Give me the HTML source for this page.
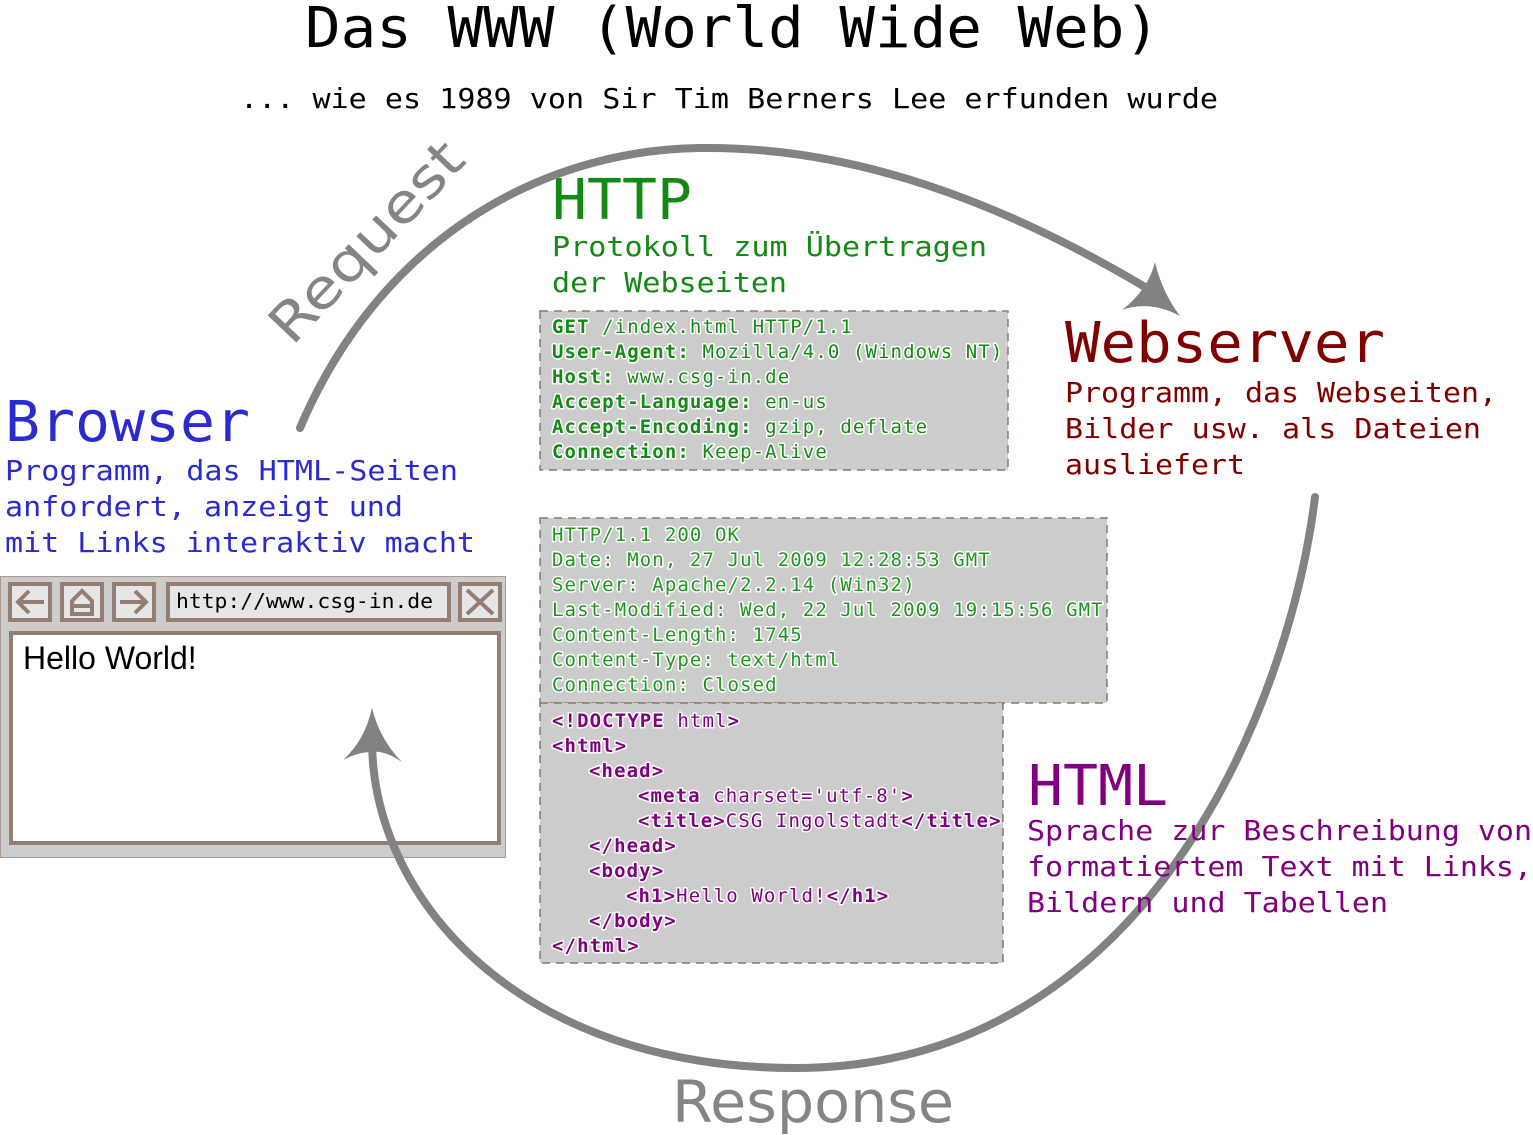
<!DOCTYPE html>
<html><head><meta charset="utf-8"><style>
html,body{margin:0;padding:0;background:#fff;}
svg{display:block;}
text{font-family:"DejaVu Sans Mono","Liberation Mono",monospace;paint-order:stroke;stroke:#fff;stroke-width:3px;stroke-linejoin:round;white-space:pre;}
.code{font-size:19px;letter-spacing:1.1px;stroke:none;}
.b{font-weight:bold;}
</style></head><body>
<svg width="1533" height="1135" viewBox="0 0 1533 1135" xmlns="http://www.w3.org/2000/svg" xml:space="preserve">
<text x="305" y="47" font-size="56" fill="#000" textLength="855" lengthAdjust="spacingAndGlyphs">Das WWW (World Wide Web)</text>
<text x="240" y="108" font-size="28" fill="#000" textLength="978" lengthAdjust="spacingAndGlyphs">... wie es 1989 von Sir Tim Berners Lee erfunden wurde</text>

<text transform="translate(292,347) rotate(-46.5)" font-size="54" fill="#858585" style="font-family:'DejaVu Sans','Liberation Sans',sans-serif" textLength="255" lengthAdjust="spacingAndGlyphs">Request</text>
<text x="672" y="1122" font-size="58" fill="#858585" style="font-family:'DejaVu Sans','Liberation Sans',sans-serif" textLength="282" lengthAdjust="spacingAndGlyphs">Response</text>

<!-- HTTP -->
<text x="552" y="219" font-size="56" fill="#138a13" textLength="140" lengthAdjust="spacingAndGlyphs">HTTP</text>
<text x="552" y="256" font-size="28" fill="#138a13" textLength="435" lengthAdjust="spacingAndGlyphs">Protokoll zum Übertragen</text>
<text x="552" y="292" font-size="28" fill="#138a13" textLength="235" lengthAdjust="spacingAndGlyphs">der Webseiten</text>

<!-- Browser -->
<text x="5" y="441" font-size="56" fill="#2a2ad0" textLength="245" lengthAdjust="spacingAndGlyphs">Browser</text>
<g font-size="28" fill="#2a2ad0">
<text x="5" y="480" textLength="453" lengthAdjust="spacingAndGlyphs">Programm, das HTML-Seiten</text>
<text x="5" y="516" textLength="398" lengthAdjust="spacingAndGlyphs">anfordert, anzeigt und</text>
<text x="5" y="552" textLength="470" lengthAdjust="spacingAndGlyphs">mit Links interaktiv macht</text>
</g>

<!-- Webserver -->
<text x="1065" y="362" font-size="56" fill="#800000" textLength="320" lengthAdjust="spacingAndGlyphs">Webserver</text>
<g font-size="28" fill="#800000">
<text x="1065" y="402" textLength="432" lengthAdjust="spacingAndGlyphs">Programm, das Webseiten,</text>
<text x="1065" y="438" textLength="416" lengthAdjust="spacingAndGlyphs">Bilder usw. als Dateien</text>
<text x="1065" y="474" textLength="180" lengthAdjust="spacingAndGlyphs">ausliefert</text>
</g>

<!-- boxes -->
<g fill="#cccccc" stroke="#8a7a6a" stroke-width="1.5" stroke-dasharray="8,6">
<rect x="540" y="311" width="468" height="159"/>
<rect x="540" y="518" width="567" height="185"/>
<rect x="540" y="703" width="463" height="260"/>
</g>

<g class="code" fill="#138a13">
<text x="552" y="333"><tspan class="b">GET</tspan> /index.html HTTP/1.1</text>
<text x="552" y="358"><tspan class="b">User-Agent:</tspan> Mozilla/4.0 (Windows NT)</text>
<text x="552" y="383"><tspan class="b">Host:</tspan> www.csg-in.de</text>
<text x="552" y="408"><tspan class="b">Accept-Language:</tspan> en-us</text>
<text x="552" y="433"><tspan class="b">Accept-Encoding:</tspan> gzip, deflate</text>
<text x="552" y="458"><tspan class="b">Connection:</tspan> Keep-Alive</text>
</g>
<g class="code" fill="#1e961e">
<text x="552" y="541">HTTP/1.1 200 OK</text>
<text x="552" y="566">Date: Mon, 27 Jul 2009 12:28:53 GMT</text>
<text x="552" y="591">Server: Apache/2.2.14 (Win32)</text>
<text x="552" y="616">Last-Modified: Wed, 22 Jul 2009 19:15:56 GMT</text>
<text x="552" y="641">Content-Length: 1745</text>
<text x="552" y="666">Content-Type: text/html</text>
<text x="552" y="691">Connection: Closed</text>
</g>
<g class="code" fill="#800080">
<text x="552" y="727"><tspan class="b">&lt;!DOCTYPE</tspan> html<tspan class="b">&gt;</tspan></text>
<text x="552" y="752" class="b">&lt;html&gt;</text>
<text x="589" y="777" class="b">&lt;head&gt;</text>
<text x="638" y="802"><tspan class="b">&lt;meta</tspan> charset='utf-8'<tspan class="b">&gt;</tspan></text>
<text x="638" y="827"><tspan class="b">&lt;title&gt;</tspan>CSG Ingolstadt<tspan class="b">&lt;/title&gt;</tspan></text>
<text x="589" y="852" class="b">&lt;/head&gt;</text>
<text x="589" y="877" class="b">&lt;body&gt;</text>
<text x="626" y="902"><tspan class="b">&lt;h1&gt;</tspan>Hello World!<tspan class="b">&lt;/h1&gt;</tspan></text>
<text x="589" y="927" class="b">&lt;/body&gt;</text>
<text x="552" y="952" class="b">&lt;/html&gt;</text>
</g>

<!-- browser window -->
<rect x="0.5" y="576.5" width="505" height="281" fill="#cccccc" stroke="#a89a90" stroke-width="1"/>
<g fill="#e6e6e6" stroke="#947e72" stroke-width="4">
<rect x="10" y="584" width="40" height="36"/>
<rect x="62" y="584" width="40" height="36"/>
<rect x="114" y="584" width="40" height="36"/>
<rect x="168" y="584" width="281" height="36"/>
<rect x="460" y="584" width="40" height="36"/>
</g>
<g fill="none" stroke="#947e72" stroke-width="4">
<path d="M44,602 H18 M29,591 L18,602 L29,613"/>
<path d="M72,614 V601 L82,591 L92,601 V614 Z M72,606 H92"/>
<path d="M120,602 H146 M135,591 L146,602 L135,613"/>
<path d="M467,590 L493,614 M493,590 L467,614"/>
</g>
<text x="176" y="608" style="stroke:none" font-size="20" fill="#000" textLength="257" lengthAdjust="spacingAndGlyphs">http://www.csg-in.de</text>
<rect x="11" y="633" width="488" height="210" fill="#fff" stroke="#947e72" stroke-width="4"/>
<text x="23" y="669" style="font-family:'Liberation Sans',Arial,sans-serif;stroke:none" font-size="32" fill="#000">Hello World!</text>

<!-- arcs -->
<path d="M300,428 C380,240 540,150 700,148 C850,146 1000,200 1150,290" fill="none" stroke="#828282" stroke-width="8" stroke-linecap="round"/>
<path d="M1180,316 Q1150,300 1122,310 Q1148,290 1155,262 Q1162,292 1180,316 Z" fill="#828282"/>
<path d="M1315,497 C1290,700 1150,1068 795,1068 C520,1068 372,900 372,740" fill="none" stroke="#828282" stroke-width="8" stroke-linecap="round"/>
<path d="M372,708 Q380,740 402,762 Q385,750 372,752 Q358,752 343,760 Q365,740 372,708 Z" fill="#828282"/>

<!-- HTML (drawn over arc like reference) -->
<text x="1028" y="805" font-size="56" fill="#800080" textLength="140" lengthAdjust="spacingAndGlyphs">HTML</text>
<g font-size="28" fill="#800080" style="stroke:none">
<text x="1027" y="840" style="stroke:none" textLength="505" lengthAdjust="spacingAndGlyphs">Sprache zur Beschreibung von</text>
<text x="1027" y="876" style="stroke:none" textLength="505" lengthAdjust="spacingAndGlyphs">formatiertem Text mit Links,</text>
<text x="1027" y="912" style="stroke:none" textLength="361" lengthAdjust="spacingAndGlyphs">Bildern und Tabellen</text>
</g>
</svg>
</body></html>
